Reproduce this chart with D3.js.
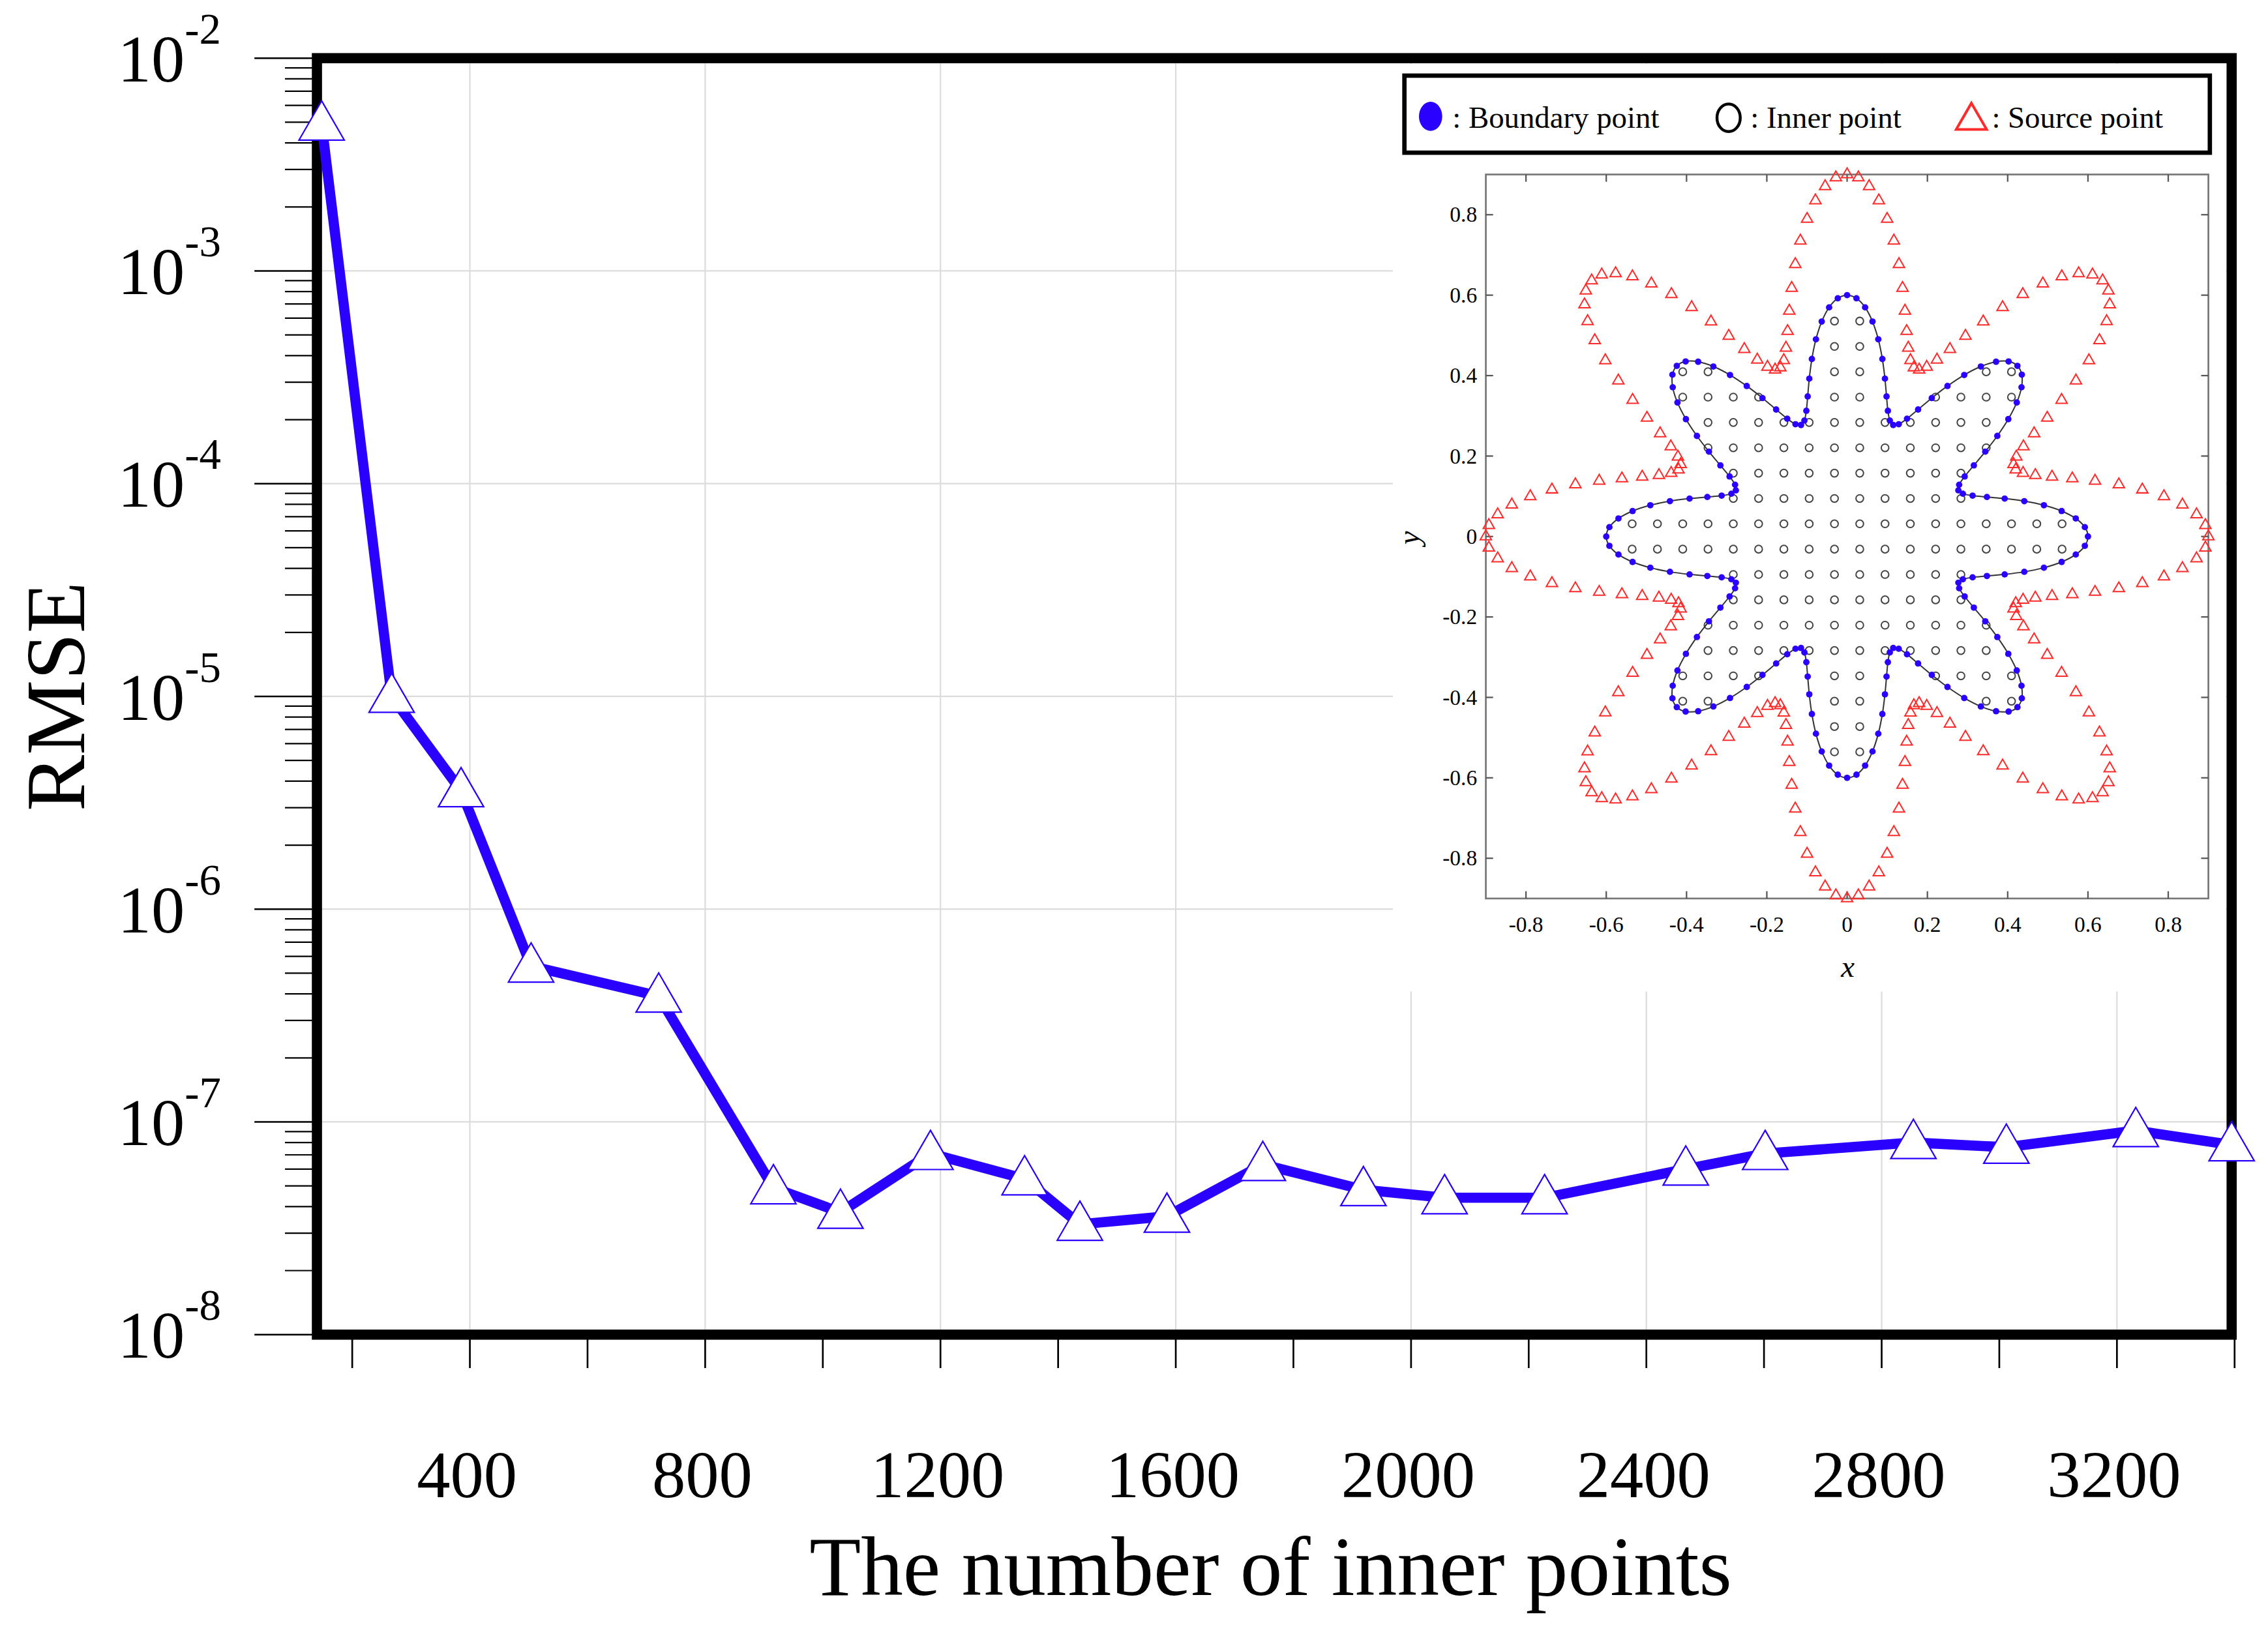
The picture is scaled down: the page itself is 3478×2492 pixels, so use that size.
<!DOCTYPE html>
<html>
<head>
<meta charset="utf-8">
<script src="https://cdn.jsdelivr.net/npm/d3@7"></script>
<style>
  html, body { margin: 0; padding: 0; background: #fff; }
  svg { display: block; font-family: "Liberation Serif", "Times New Roman", serif; }
</style>
</head>
<body>
<svg id="chart" width="3478" height="2492" viewBox="0 0 1560 1117.7"></svg>
<script>
// main series: RMSE vs number of inner points
var nInner = [148, 267, 385, 504, 721, 916, 1030, 1183, 1343, 1437, 1585, 1748, 1919, 2057, 2227, 2467, 2602, 2854, 3012, 3232, 3395];
var rmse = [4.9e-3, 1.0e-5, 3.6e-6, 5.4e-7, 3.9e-7, 4.9e-8, 3.76e-8, 7.1e-8, 5.4e-8, 3.3e-8, 3.6e-8, 6.3e-8, 4.8e-8, 4.4e-8, 4.4e-8, 6.0e-8, 7.1e-8, 8.0e-8, 7.6e-8, 9.1e-8, 7.8e-8];
var xTickLabels = [400, 800, 1200, 1600, 2000, 2400, 2800, 3200];
var yExponents = [-2, -3, -4, -5, -6, -7, -8];

// inset geometry: 8-petal star r = r0 + amp*cos(8t), source curve = scaled boundary
var petals = 8;
var boundaryR0 = 0.45, boundaryAmp = 0.15, boundaryCount = 160;
var sourceScale = 1.5, sourceCount = 200;
var innerSpacing = 0.063;
var insetTicks = [-0.8, -0.6, -0.4, -0.2, 0, 0.2, 0.4, 0.6, 0.8];
var legendItems = [": Boundary point", ": Inner point", ": Source point"];

var svg = d3.select("#chart");
var L = 218, R = 1535, T = 40, B = 918;
var blue = "#2a00ff";

var x = d3.scaleLinear().domain([140, 3395]).range([L, R]);
var y = d3.scaleLog().domain([1e-8, 1e-2]).range([B, T]);

// grid
svg.append("g").selectAll("line").data(xTickLabels).join("line")
  .attr("x1", d => x(d)).attr("x2", d => x(d)).attr("y1", T).attr("y2", B)
  .attr("stroke", "#dcdcdc").attr("stroke-width", 1);
svg.append("g").selectAll("line").data(yExponents).join("line")
  .attr("x1", L).attr("x2", R).attr("y1", d => y(Math.pow(10, d))).attr("y2", d => y(Math.pow(10, d)))
  .attr("stroke", "#dcdcdc").attr("stroke-width", 1);

// y ticks (major + minor)
var yMinor = [];
yExponents.slice(0, -1).forEach(function(e) {
  for (var k = 2; k <= 9; k++) yMinor.push(k * Math.pow(10, e - 1));
});
svg.append("g").selectAll("line").data(yExponents).join("line")
  .attr("x1", 175).attr("x2", L).attr("y1", d => y(Math.pow(10, d))).attr("y2", d => y(Math.pow(10, d)))
  .attr("stroke", "#000").attr("stroke-width", 1.2);
svg.append("g").selectAll("line").data(yMinor).join("line")
  .attr("x1", 196).attr("x2", L).attr("y1", d => y(d)).attr("y2", d => y(d))
  .attr("stroke", "#000").attr("stroke-width", 1);

var yl = svg.append("g").selectAll("text").data(yExponents).join("text")
  .attr("x", 152).attr("y", d => y(Math.pow(10, d)) + 16)
  .attr("text-anchor", "end").attr("font-size", 46);
yl.append("tspan").text("10");
yl.append("tspan").attr("dy", -26).attr("font-size", 30).text(d => "-" + Math.abs(d));

// x ticks every 200
var xMinor = d3.range(200, 3401, 200);
svg.append("g").selectAll("line").data(xMinor).join("line")
  .attr("x1", d => x(d)).attr("x2", d => x(d)).attr("y1", B).attr("y2", 941)
  .attr("stroke", "#000").attr("stroke-width", 1.2);
svg.append("g").selectAll("text").data(xTickLabels).join("text")
  .attr("x", d => x(d) - 2).attr("y", 1030).attr("text-anchor", "middle")
  .attr("font-size", 46).text(d => d);

svg.append("text").attr("x", 874).attr("y", 1097).attr("text-anchor", "middle")
  .attr("font-size", 58).text("The number of inner points");
svg.append("text").attr("transform", "translate(58,479) rotate(-90)")
  .attr("text-anchor", "middle").attr("font-size", 58).text("RMSE");

// frame
svg.append("rect").attr("x", L).attr("y", T).attr("width", R - L).attr("height", B - T)
  .attr("fill", "none").attr("stroke", "#000").attr("stroke-width", 7);

// line + triangle markers
svg.append("path").datum(nInner.map((d, i) => [d, rmse[i]]))
  .attr("fill", "none").attr("stroke", blue).attr("stroke-width", 7).attr("stroke-linejoin", "round")
  .attr("d", d3.line().x(d => x(d[0])).y(d => y(d[1])));
var tri = d3.symbol().type(d3.symbolTriangle).size(420);
svg.append("g").selectAll("path").data(nInner).join("path")
  .attr("d", tri).attr("transform", (d, i) => "translate(" + x(d) + "," + (y(rmse[i]) + 2) + ")")
  .attr("fill", "#fff").attr("stroke", blue).attr("stroke-width", 1);

// ---------- inset ----------
svg.append("rect").attr("x", 958).attr("y", 44).attr("width", 573).attr("height", 638).attr("fill", "#fff");

var ix = d3.scaleLinear().domain([-0.9, 0.9]).range([1022, 1519]);
var iy = d3.scaleLinear().domain([-0.9, 0.9]).range([618, 120]);
var ins = svg.append("g").attr("font-size", 15);

ins.append("rect").attr("x", 1022).attr("y", 120).attr("width", 497).attr("height", 498)
  .attr("fill", "none").attr("stroke", "#777").attr("stroke-width", 1.2);
insetTicks.forEach(function(t) {
  ins.append("line").attr("x1", ix(t)).attr("x2", ix(t)).attr("y1", 618).attr("y2", 613).attr("stroke", "#555");
  ins.append("line").attr("x1", ix(t)).attr("x2", ix(t)).attr("y1", 120).attr("y2", 125).attr("stroke", "#555");
  ins.append("line").attr("x1", 1022).attr("x2", 1027).attr("y1", iy(t)).attr("y2", iy(t)).attr("stroke", "#555");
  ins.append("line").attr("x1", 1519).attr("x2", 1514).attr("y1", iy(t)).attr("y2", iy(t)).attr("stroke", "#555");
  ins.append("text").attr("x", ix(t)).attr("y", 641).attr("text-anchor", "middle").text(t === 0 ? "0" : t.toFixed(1));
  ins.append("text").attr("x", 1016).attr("y", iy(t) + 5).attr("text-anchor", "end").text(t === 0 ? "0" : t.toFixed(1));
});
ins.append("text").attr("x", 1271).attr("y", 672).attr("text-anchor", "middle")
  .attr("font-size", 21).attr("font-style", "italic").text("x");
ins.append("text").attr("transform", "translate(976,370) rotate(-90)").attr("text-anchor", "middle")
  .attr("font-size", 21).attr("font-style", "italic").text("y");

function rB(t) { return boundaryR0 + boundaryAmp * Math.cos(petals * t); }
var bPts = d3.range(boundaryCount).map(i => {
  var t = 2 * Math.PI * i / boundaryCount, r = rB(t);
  return [r * Math.cos(t), r * Math.sin(t)];
});
var sPts = d3.range(sourceCount).map(i => {
  var t = 2 * Math.PI * i / sourceCount, r = sourceScale * rB(t);
  return [r * Math.cos(t), r * Math.sin(t)];
});
var iPts = [];
var nG = Math.ceil(0.6 / innerSpacing) + 1;
for (var i = -nG; i < nG; i++) for (var j = -nG; j < nG; j++) {
  var px = (i + 0.5) * innerSpacing, py = (j + 0.5) * innerSpacing;
  var rr = Math.hypot(px, py), th = Math.atan2(py, px);
  if (rr < rB(th) - 0.012) iPts.push([px, py]);
}

ins.append("g").selectAll("circle").data(iPts).join("circle")
  .attr("cx", d => ix(d[0])).attr("cy", d => iy(d[1])).attr("r", 2.6)
  .attr("fill", "none").attr("stroke", "#444").attr("stroke-width", 0.9);
ins.append("path").datum(bPts)
  .attr("fill", "none").attr("stroke", "#333").attr("stroke-width", 0.9)
  .attr("d", d3.line().x(d => ix(d[0])).y(d => iy(d[1])).curve(d3.curveCardinalClosed));
ins.append("g").selectAll("circle").data(bPts).join("circle")
  .attr("cx", d => ix(d[0])).attr("cy", d => iy(d[1])).attr("r", 2.2).attr("fill", blue);
var sTri = d3.symbol().type(d3.symbolTriangle).size(26);
ins.append("g").selectAll("path").data(sPts).join("path")
  .attr("d", sTri).attr("transform", d => "translate(" + ix(d[0]) + "," + iy(d[1]) + ")")
  .attr("fill", "none").attr("stroke", "#ff2a2a").attr("stroke-width", 0.9);

// legend
var lg = svg.append("g").attr("font-size", 21);
lg.append("rect").attr("x", 966).attr("y", 52).attr("width", 554).attr("height", 53)
  .attr("fill", "#fff").attr("stroke", "#000").attr("stroke-width", 3);
lg.append("ellipse").attr("cx", 984).attr("cy", 80).attr("rx", 8).attr("ry", 10).attr("fill", blue);
lg.append("ellipse").attr("cx", 1189).attr("cy", 81).attr("rx", 8).attr("ry", 9.5)
  .attr("fill", "none").attr("stroke", "#000").attr("stroke-width", 2);
lg.append("path").attr("d", d3.symbol().type(d3.symbolTriangle).size(190))
  .attr("transform", "translate(1356,83)").attr("fill", "none").attr("stroke", "#ff2a2a").attr("stroke-width", 1.8);
var lx = [999, 1204, 1370];
lg.selectAll("text").data(legendItems).join("text")
  .attr("x", (d, i) => lx[i]).attr("y", 88).text(d => d);
</script>
</body>
</html>
